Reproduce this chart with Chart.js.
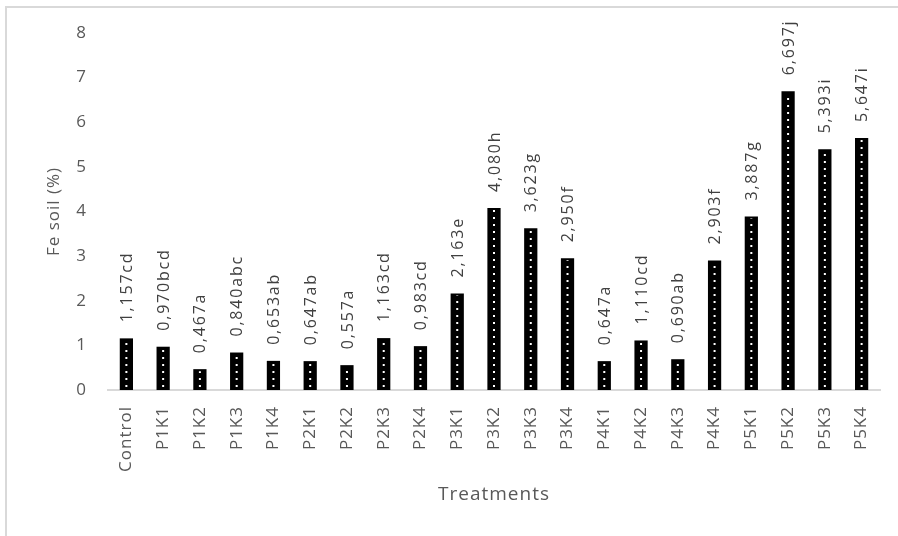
<!DOCTYPE html>
<html>
<head>
<meta charset="utf-8">
<script src="https://cdn.jsdelivr.net/npm/chart.js@4.4.1/dist/chart.umd.min.js"></script>
<style>
  html, body { margin: 0; padding: 0; background: #fff; }
  #wrap { position: relative; width: 898px; height: 536px; }
  #frame { position: absolute; left: 5px; top: 6px; right: 0; bottom: 0;
           border-left: 2px solid #d9d9d9; border-top: 2px solid #d9d9d9; }
  canvas { position: absolute; left: 0; top: 0; }
</style>
</head>
<body>
<div id="wrap">
  <div id="frame"></div>
  <canvas id="feChart" width="898" height="536"></canvas>
</div>
<script>
const treatments = ['Control', 'P1K1', 'P1K2', 'P1K3', 'P1K4', 'P2K1', 'P2K2', 'P2K3', 'P2K4',
    'P3K1', 'P3K2', 'P3K3', 'P3K4', 'P4K1', 'P4K2', 'P4K3', 'P4K4', 'P5K1', 'P5K2', 'P5K3', 'P5K4'];
const feSoil = [1.157, 0.970, 0.467, 0.840, 0.653, 0.647, 0.557, 1.163, 0.983,
    2.163, 4.080, 3.623, 2.950, 0.647, 1.110, 0.690, 2.903, 3.887, 6.697, 5.393, 5.647];
const letters = ['cd', 'bcd', 'a', 'abc', 'ab', 'ab', 'a', 'cd', 'cd',
    'e', 'h', 'g', 'f', 'a', 'cd', 'ab', 'f', 'g', 'j', 'i', 'i'];
const yTicks = [0, 1, 2, 3, 4, 5, 6, 7, 8];

const FONT = "'Open Sans', sans-serif";

// the original text is loosely spaced, so widen every glyph run a bit
const spacingPlugin = {
    id: 'spacing',
    beforeLayout(chart) { chart.ctx.letterSpacing = '1px'; },
    beforeDraw(chart) { chart.ctx.letterSpacing = '1px'; }
};

// white dotted line down the middle of each bar
const dotsPlugin = {
    id: 'dots',
    afterDatasetsDraw(chart) {
        const ctx = chart.ctx;
        const meta = chart.getDatasetMeta(0);
        ctx.save();
        ctx.strokeStyle = '#fff';
        ctx.lineWidth = 2;
        ctx.setLineDash([2, 5]);
        meta.data.forEach(bar => {
            ctx.beginPath();
            ctx.moveTo(bar.x, bar.base - 3);
            ctx.lineTo(bar.x, bar.y + 2);
            ctx.stroke();
        });
        ctx.restore();
    }
};

// rotated value labels above bars
const labelPlugin = {
    id: 'valueLabels',
    afterDatasetsDraw(chart) {
        const ctx = chart.ctx;
        const meta = chart.getDatasetMeta(0);
        ctx.save();
        ctx.fillStyle = '#404040';
        ctx.font = '16px ' + FONT;
        ctx.letterSpacing = '1.8px';
        ctx.textAlign = 'left';
        ctx.textBaseline = 'middle';
        meta.data.forEach((bar, i) => {
            const txt = feSoil[i].toFixed(3).replace('.', ',') + letters[i];
            ctx.save();
            ctx.translate(bar.x + 1, bar.y - 16);
            ctx.rotate(-Math.PI / 2);
            ctx.fillText(txt, 0, 0);
            ctx.restore();
        });
        ctx.restore();
    }
};

new Chart(document.getElementById('feChart').getContext('2d'), {
    type: 'bar',
    data: {
        labels: treatments,
        datasets: [{
            data: feSoil,
            backgroundColor: '#000',
            categoryPercentage: 1,
            barPercentage: 0.36
        }]
    },
    options: {
        responsive: false,
        animation: false,
        layout: { padding: { left: 44, right: 18, top: 33, bottom: 30 } },
        plugins: { legend: { display: false }, tooltip: { enabled: false } },
        scales: {
            x: {
                grid: { display: false },
                border: { display: true, color: '#d9d9d9', width: 2 },
                ticks: {
                    color: '#595959', font: { family: FONT, size: 17 },
                    minRotation: 90, maxRotation: 90, padding: 8
                },
                title: {
                    display: true, text: 'Treatments', color: '#595959',
                    font: { family: FONT, size: 19 }, padding: { top: 0, bottom: 0 }
                },
                afterFit(scale) { scale.height = 536 - 390 - 30; }
            },
            y: {
                min: 0, max: 8,
                grid: { display: false },
                border: { display: false },
                afterBuildTicks(scale) { scale.ticks = yTicks.map(v => ({ value: v })); },
                ticks: {
                    color: '#595959', font: { family: FONT, size: 17 }, padding: 13
                },
                title: {
                    display: true, text: 'Fe soil (%)', color: '#595959',
                    font: { family: FONT, size: 17 }, padding: { top: 0, bottom: 0 }
                },
                afterFit(scale) { scale.width = 108 - 44; }
            }
        }
    },
    plugins: [spacingPlugin, dotsPlugin, labelPlugin]
});
</script>
</body>
</html>
